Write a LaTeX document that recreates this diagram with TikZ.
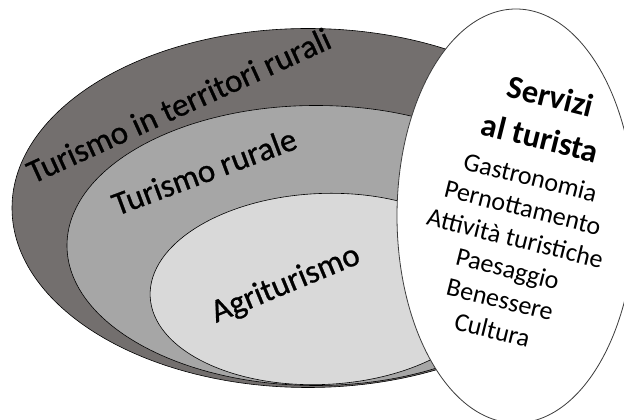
\documentclass[tikz,border=0pt]{standalone}
\usepackage{fontspec}
\setmainfont{Carlito}
\newfontfamily\ringfont[FakeBold=0.8]{Carlito}
\definecolor{outerfill}{RGB}{115,111,110}
\definecolor{midfill}{RGB}{166,166,166}
\definecolor{innerfill}{RGB}{217,217,217}
\definecolor{rimline}{RGB}{60,60,60}
\begin{document}
\begin{tikzpicture}[x=1pt,y=1pt,
  ring/.style={draw=black, line width=0.6pt},
  biglabel/.style={inner sep=0pt, font=\ringfont\fontsize{33}{40}\selectfont, anchor=base west},
  headlabel/.style={inner sep=0pt, font=\bfseries\fontsize{32.5}{39}\selectfont, anchor=base, rotate=-14},
  itemlabel/.style={inner sep=0pt, font=\fontsize{26}{31}\selectfont, anchor=base, rotate=-14}]
\useasboundingbox (0,0) rectangle (624,420);
\clip (0,0) rectangle (624,420);
\fill[white] (0,0) rectangle (624,420);
% nested ellipses
\draw[ring, fill=outerfill] (308,212) ellipse [x radius=296, y radius=179.5];
\draw[ring, fill=midfill] (316,174.5) ellipse [x radius=249, y radius=140];
\draw[ring, fill=innerfill, rotate around={2.5:(322,131)}] (322,131) ellipse [x radius=172, y radius=95.5];
% labels of the nested ellipses
\node[biglabel, rotate=24.5] (lblouter) at (33,236) {Turismo in territori rurali};
\node[biglabel, rotate=20.5] (lblmid) at (117,204) {Turismo rurale};
\node[biglabel, rotate=22.5] (lblinner) at (216,97) {Agriturismo};
% services ellipse
\draw[draw=rimline, line width=0.8pt, fill=white] (516,204) ellipse [x radius=119, y radius=207];
\node[headlabel] (hserv) at (548,313) {Servizi};
\node[headlabel] (hturista) at (537.6,271.3) {al turista};
\node[itemlabel] (igastro) at (528.4,234.4) {Gastronomia};
\node[itemlabel] (ipernot) at (520.8,203.9) {Pernottamento};
\node[itemlabel] (iattiv) at (513.2,173.3) {Attività turistiche};
\node[itemlabel] (ipaes) at (505.6,142.8) {Paesaggio};
\node[itemlabel] (ibenes) at (497.9,112.2) {Benessere};
\node[itemlabel] (icult) at (490.3,81.7) {Cultura};
\end{tikzpicture}
\end{document}
